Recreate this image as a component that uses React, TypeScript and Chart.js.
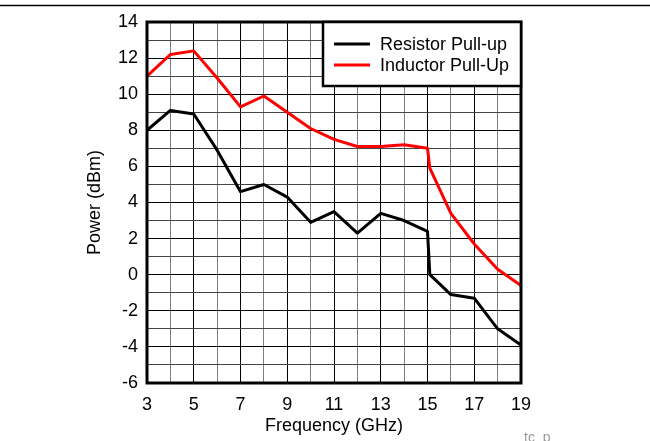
import React, { useEffect, useRef } from "react";
import { Chart, registerables } from "chart.js";

Chart.register(...registerables);

const FONT = "'Liberation Sans', Arial, Helvetica, sans-serif";

// Frequency points (GHz); 15.1 captures the sharp step just after 15 GHz
const frequencies = [3, 4, 5, 6, 7, 8, 9, 10, 11, 12, 13, 14, 15, 15.1, 16, 17, 18, 19];
// Output power (dBm)
const resistorPullUp = [8.0, 9.1, 8.9, 6.9, 4.6, 5.0, 4.3, 2.9, 3.5, 2.3, 3.4, 3.0, 2.4, 0.0, -1.1, -1.3, -3.0, -3.9];
const inductorPullUp = [11.0, 12.2, 12.4, 10.9, 9.3, 9.9, 9.0, 8.1, 7.5, 7.1, 7.1, 7.2, 7.0, 5.9, 3.4, 1.7, 0.3, -0.6];

const seriesNames = ["Resistor Pull-up", "Inductor Pull-Up"];
const seriesColors = ["#000000", "#ff0000"];

const xTitle = "Frequency (GHz)";
const yTitle = "Power (dBm)";
const footnote = "tc_p";

const toPoints = (ys: number[]) => frequencies.map((x, i) => ({ x, y: ys[i] }));

const framePlugin = {
  id: "frame",
  beforeDraw(chart: any) {
    const { ctx, width } = chart;
    ctx.save();
    ctx.fillStyle = "#ffffff";
    ctx.fillRect(0, 0, chart.width, chart.height);
    // rule across the top of the page
    ctx.strokeStyle = "#000";
    ctx.lineWidth = 1.5;
    ctx.beginPath();
    ctx.moveTo(0, 5.5);
    ctx.lineTo(width, 5.5);
    ctx.stroke();
    ctx.restore();
  },
  afterDatasetsDraw(chart: any) {
    const { ctx, chartArea } = chart;
    const { left, top, right, bottom } = chartArea;
    ctx.save();
    // plot frame
    ctx.strokeStyle = "#000";
    ctx.lineWidth = 3;
    ctx.strokeRect(left, top, right - left, bottom - top);

    // legend box in the top-right corner
    const boxW = 198;
    const boxH = 64;
    const bx = right - boxW;
    const by = top;
    ctx.fillStyle = "#fff";
    ctx.fillRect(bx, by, boxW, boxH);
    ctx.lineWidth = 2.5;
    ctx.strokeRect(bx, by, boxW, boxH);

    ctx.font = `18px ${FONT}`;
    ctx.textBaseline = "middle";
    ctx.textAlign = "left";
    seriesNames.forEach((name, i) => {
      const y = by + 22 + i * 21;
      ctx.strokeStyle = seriesColors[i];
      ctx.lineWidth = 3;
      ctx.beginPath();
      ctx.moveTo(bx + 11, y);
      ctx.lineTo(bx + 47, y);
      ctx.stroke();
      ctx.fillStyle = "#000";
      ctx.fillText(name, bx + 57, y + 1);
    });

    // small footnote label at bottom right
    ctx.fillStyle = "#9a9a9a";
    ctx.font = `14px ${FONT}`;
    ctx.textBaseline = "alphabetic";
    ctx.fillText(footnote, right + 3, chart.height + 0.5);
    ctx.restore();
  },
};

export default function App() {
  const canvasRef = useRef<HTMLCanvasElement | null>(null);

  useEffect(() => {
    if (!canvasRef.current) return;
    const chart = new Chart(canvasRef.current, {
      type: "line",
      data: {
        datasets: [
          {
            label: seriesNames[0],
            data: toPoints(resistorPullUp),
            borderColor: seriesColors[0],
            borderWidth: 3,
            pointRadius: 0,
            tension: 0,
            borderJoinStyle: "round",
          },
          {
            label: seriesNames[1],
            data: toPoints(inductorPullUp),
            borderColor: seriesColors[1],
            borderWidth: 3,
            pointRadius: 0,
            tension: 0,
            borderJoinStyle: "round",
          },
        ],
      },
      options: {
        animation: false,
        responsive: false,
        events: [],
        layout: { padding: { left: 0, top: 22, right: 129, bottom: 0 } },
        plugins: {
          legend: { display: false },
          tooltip: { enabled: false },
        },
        scales: {
          x: {
            type: "linear",
            min: 3,
            max: 19,
            afterFit: (scale: any) => {
              scale.height = 58;
            },
            border: { display: false },
            grid: {
              drawTicks: false,
              lineWidth: 1,
              color: (c: any) => ((c.tick.value - 3) % 2 === 0 ? "#000" : "#808080"),
            },
            ticks: {
              stepSize: 1,
              autoSkip: false,
              maxRotation: 0,
              padding: 11,
              color: "#000",
              font: { family: FONT, size: 18 },
              callback: (v: any) => ((Number(v) - 3) % 2 === 0 ? String(v) : ""),
            },
            title: {
              display: true,
              text: xTitle,
              color: "#000",
              font: { family: FONT, size: 18 },
              padding: { top: 0, bottom: 4 },
            },
          },
          y: {
            type: "linear",
            min: -6,
            max: 14,
            afterFit: (scale: any) => {
              scale.width = 147;
            },
            border: { display: false },
            grid: {
              drawTicks: false,
              lineWidth: 1,
              color: (c: any) => (c.tick.value % 2 === 0 ? "#000" : "#444"),
            },
            ticks: {
              stepSize: 1,
              autoSkip: false,
              padding: 9,
              color: "#000",
              font: { family: FONT, size: 18 },
              callback: (v: any) => (Number(v) % 2 === 0 ? String(v) : ""),
            },
            title: {
              display: true,
              text: yTitle,
              color: "#000",
              font: { family: FONT, size: 18 },
              padding: { top: 84, bottom: 0 },
            },
          },
        },
      },
      plugins: [framePlugin],
    });
    return () => chart.destroy();
  }, []);

  return (
    <div style={{ position: "absolute", left: 0, top: 0, width: 650, height: 441 }}>
      <canvas ref={canvasRef} width={650} height={441} style={{ width: 650, height: 441, display: "block" }} />
    </div>
  );
}
